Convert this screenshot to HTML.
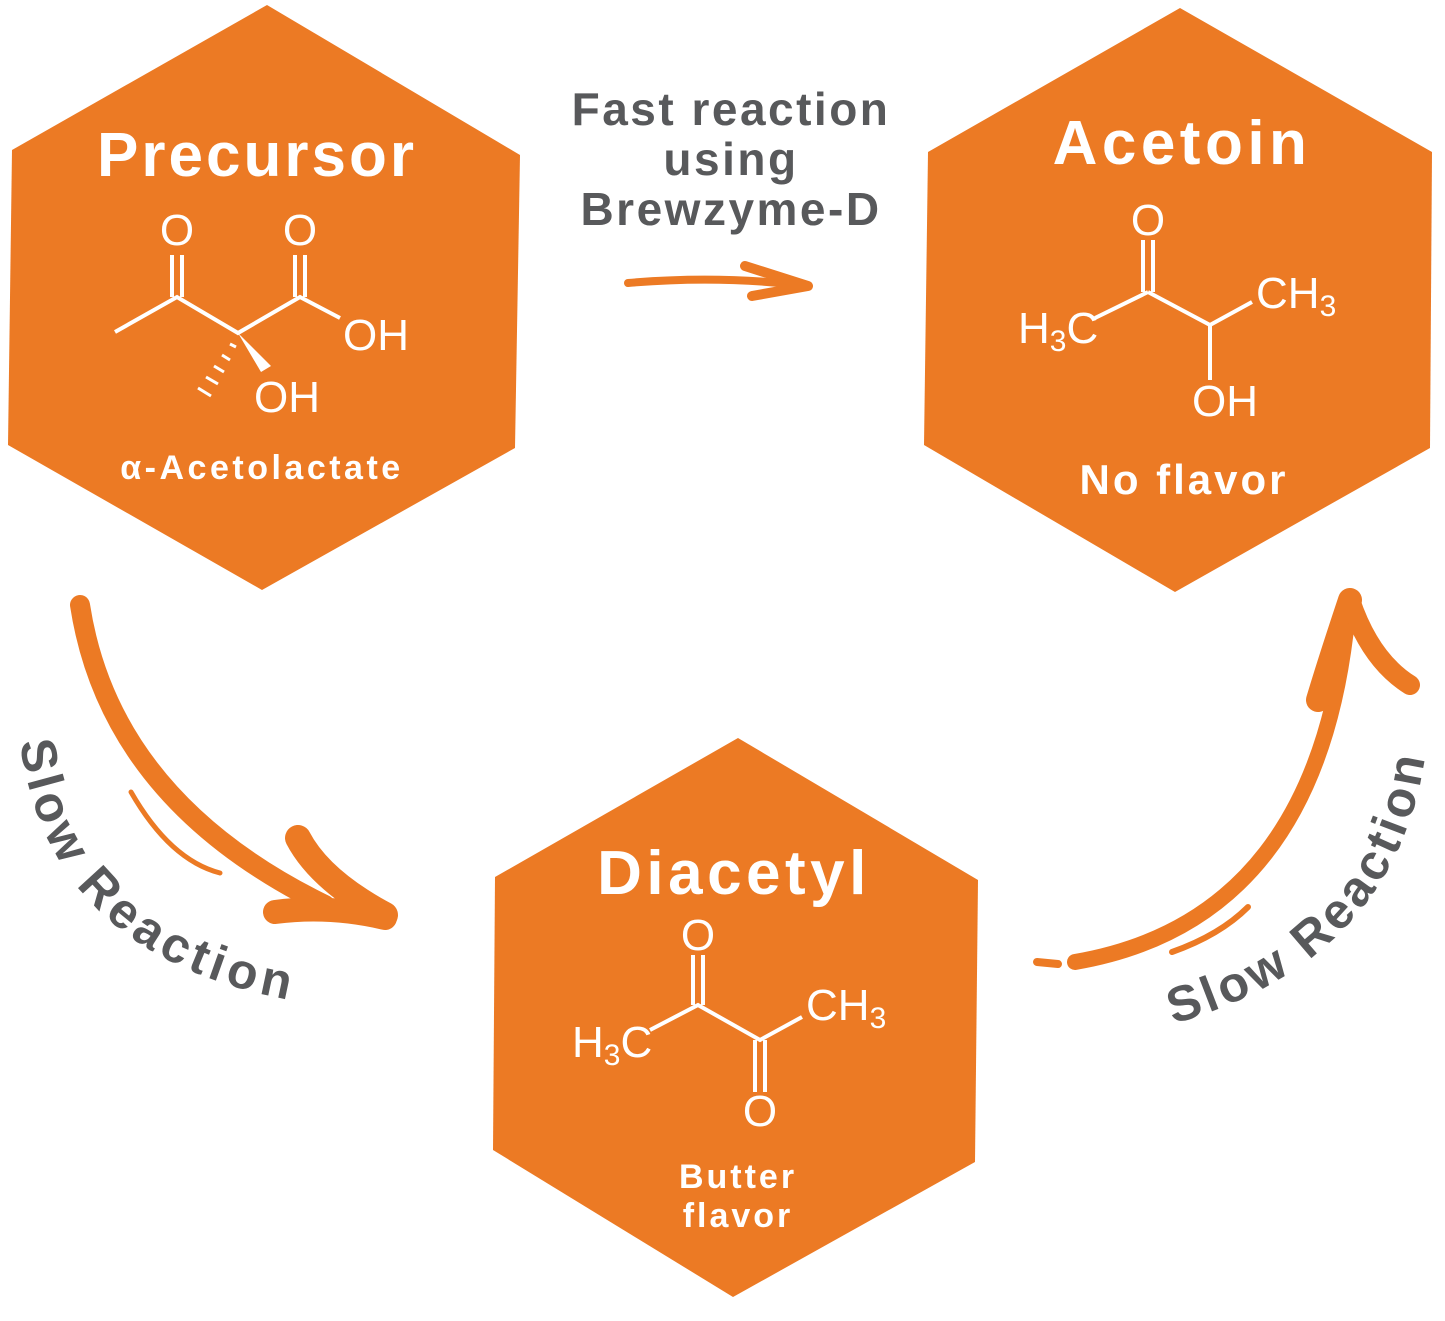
<!DOCTYPE html>
<html><head><meta charset="utf-8"><style>
html,body{margin:0;padding:0;background:#fff}
svg{display:block}
.t{font-family:"Liberation Sans",sans-serif;font-weight:bold;fill:#fff}
.g{font-family:"Liberation Sans",sans-serif;font-weight:bold;fill:#58595b}
.m{font-family:"Liberation Sans",sans-serif;fill:#fff}
</style></head><body>
<svg width="1445" height="1321" viewBox="0 0 1445 1321" xmlns="http://www.w3.org/2000/svg">
<g fill="#ec7a24">
<polygon points="267,5 520,155 515,448 262,590 8,445 12,150"/>
<polygon points="1180,8 1432,152 1430,448 1175,592 924,445 928,152"/>
<polygon points="738,738 978,880 975,1162 733,1297 493,1150 495,877"/>
</g>
<text class="t" x="257" y="176" font-size="62" text-anchor="middle" letter-spacing="3">Precursor</text>
<text class="t" x="1182" y="164" font-size="62" text-anchor="middle" letter-spacing="4.5">Acetoin</text>
<text class="t" x="734" y="894" font-size="62" text-anchor="middle" letter-spacing="4.5">Diacetyl</text>
<text class="t" x="262" y="479" font-size="34" text-anchor="middle" letter-spacing="3.5">α-Acetolactate</text>
<text class="t" x="1184" y="494" font-size="42" text-anchor="middle" letter-spacing="3">No flavor</text>
<text class="t" x="738" y="1188" font-size="34" text-anchor="middle" letter-spacing="3">Butter</text>
<text class="t" x="738" y="1227" font-size="34" text-anchor="middle" letter-spacing="3">flavor</text>
<g stroke="#fff" stroke-width="4" fill="none" stroke-linecap="butt">
<polyline points="115,332 177,297 238,333 300,297 340,318"/>
<line x1="172" y1="255" x2="172" y2="297"/><line x1="182" y1="255" x2="182" y2="297"/>
<line x1="295" y1="255" x2="295" y2="297"/><line x1="305" y1="255" x2="305" y2="297"/>
<line x1="1095" y1="318" x2="1148" y2="292"/><polyline points="1148,292 1210,325 1252,302"/>
<line x1="1143" y1="240" x2="1143" y2="292"/><line x1="1153" y1="240" x2="1153" y2="292"/>
<line x1="1210" y1="325" x2="1210" y2="380"/>
<polyline points="650,1030 698,1005 760,1040 802,1017"/>
<line x1="693" y1="955" x2="693" y2="1005"/><line x1="703" y1="955" x2="703" y2="1005"/>
<line x1="755" y1="1040" x2="755" y2="1092"/><line x1="765" y1="1040" x2="765" y2="1092"/>
</g>
<polygon points="238,333 261,372 271,366" fill="#fff"/>
<g stroke="#fff" stroke-width="3">
<line x1="230" y1="344" x2="236" y2="347"/><line x1="222" y1="355" x2="230" y2="360"/>
<line x1="214" y1="366" x2="224" y2="372"/><line x1="206" y1="377" x2="218" y2="384"/>
<line x1="198" y1="388" x2="211" y2="396"/>
</g>
<g class="m" font-size="44">
<text x="177" y="245" text-anchor="middle">O</text>
<text x="300" y="245" text-anchor="middle">O</text>
<text x="343" y="350">OH</text>
<text x="254" y="412">OH</text>
<text x="1148" y="235" text-anchor="middle">O</text>
<text x="1018" y="343">H<tspan font-size="30" dy="8">3</tspan><tspan dy="-8">C</tspan></text>
<text x="1256" y="308">CH<tspan font-size="30" dy="8">3</tspan></text>
<text x="1192" y="416">OH</text>
<text x="698" y="950" text-anchor="middle">O</text>
<text x="572" y="1057">H<tspan font-size="30" dy="8">3</tspan><tspan dy="-8">C</tspan></text>
<text x="806" y="1020">CH<tspan font-size="30" dy="8">3</tspan></text>
<text x="760" y="1126" text-anchor="middle">O</text>
</g>
<g class="g" font-size="46" text-anchor="middle" letter-spacing="2.5">
<text x="731" y="125">Fast reaction</text>
<text x="731" y="175">using</text>
<text x="731" y="225">Brewzyme-D</text>
</g>
<g stroke="#ec7a24" fill="none" stroke-linecap="round" stroke-linejoin="round">
<path d="M628,283 Q720,275 808,286" stroke-width="8"/>
<path d="M745,266 L808,286 L752,296" stroke-width="10"/>
<path d="M80,605 Q110,800 325,905" stroke-width="20"/>
<path d="M298,838 Q320,880 385,915" stroke-width="26"/>
<path d="M275,912 Q330,905 385,918" stroke-width="24"/>
<path d="M131,792 Q170,860 220,873" stroke-width="5"/>
<path d="M1075,962 Q1320,920 1348,610" stroke-width="16"/>
<path d="M1350,600 Q1330,660 1318,700" stroke-width="24"/>
<path d="M1350,600 Q1370,660 1410,685" stroke-width="20"/>
<path d="M1172,952 Q1220,935 1248,907" stroke-width="6"/>
<path d="M1037,962 L1058,964" stroke-width="8"/>
</g>
<defs>
<path id="pl" d="M20,742 Q48,955 290,1000"/>
<path id="pr" d="M1173,1024 Q1398,960 1426,750"/>
</defs>
<text class="g" font-size="50" letter-spacing="5"><textPath href="#pl">Slow Reaction</textPath></text>
<text class="g" font-size="50" letter-spacing="4"><textPath href="#pr">Slow Reaction</textPath></text>
</svg>
</body></html>
